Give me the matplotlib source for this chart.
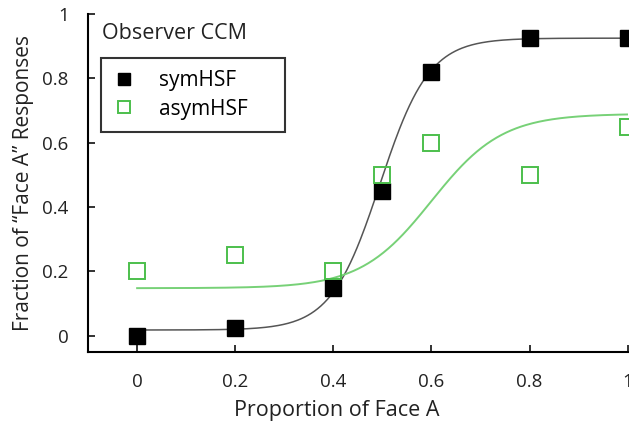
import numpy as np
import matplotlib.pyplot as plt

plt.rcParams['font.family'] = ['Open Sans', 'DejaVu Sans']

# proportion of Face A
x = [0, 0.2, 0.4, 0.5, 0.6, 0.8, 1.0]
sym = [0.0, 0.024, 0.15, 0.45, 0.82, 0.925, 0.925]
asym = [0.2, 0.25, 0.2, 0.5, 0.6, 0.5, 0.65]

# fitted logistic parameters: lower, upper, midpoint, spread
sym_fit = [0.018, 0.925, 0.495, 0.05]
asym_fit = [0.148, 0.69, 0.60, 0.072]


def logistic(xx, p):
    lo, hi, m, s = p
    return lo + (hi - lo) / (1 + np.exp(-(xx - m) / s))


xx = np.linspace(0, 1, 300)

fig = plt.figure(figsize=(6.29, 4.25), dpi=100)
ax = fig.add_axes([0.14, 0.172, 0.858, 0.795])

ax.plot(xx, logistic(xx, sym_fit), color="#555555", lw=1.1)
ax.plot(xx, logistic(xx, asym_fit), color="#77d177", lw=1.4)
ax.plot(x, sym, "s", color="black", ms=11.5, label="symHSF", clip_on=False)
ax.plot(x, asym, "s", mfc="none", mec="#4cbf4c", mew=1.4, ms=11.5,
        label="asymHSF", clip_on=False)

ax.set_xlim(-0.1, 1.0)
ax.set_ylim(-0.05, 1.0)
ax.set_xticks([0, 0.2, 0.4, 0.6, 0.8, 1.0])
ax.set_xticklabels(["0", "0.2", "0.4", "0.6", "0.8", "1"])
ax.set_yticks([0, 0.2, 0.4, 0.6, 0.8, 1.0])
ax.set_yticklabels(["0", "0.2", "0.4", "0.6", "0.8", "1"])
ax.tick_params(direction="in", length=5, width=1.3, labelsize=13.5,
               colors="#222222")
ax.tick_params(axis="x", pad=15)
ax.tick_params(axis="y", pad=14)
for side in ["top", "right"]:
    ax.spines[side].set_visible(False)
for side in ["left", "bottom"]:
    ax.spines[side].set_linewidth(1.5)

ax.set_xlabel("Proportion of Face A", fontsize=15.5, color="#222222",
              labelpad=7, x=0.46)
ax.set_ylabel("Fraction of \u201cFace A\u201d Responses", fontsize=15,
              color="#222222", labelpad=6)

ax.text(0.025, 0.972, "Observer CCM", transform=ax.transAxes, fontsize=15.5,
        color="#222222", va="top")

leg = ax.legend(loc="upper left", bbox_to_anchor=(0.024, 0.657, 0.341, 0.213),
                mode="expand", fontsize=15,
                frameon=True, fancybox=False, edgecolor="black",
                handlelength=1.0, markerscale=0.75, borderpad=0.6,
                labelspacing=0.35, handletextpad=1.2, borderaxespad=0)
leg.get_frame().set_linewidth(1.5)

plt.savefig("out.png", dpi=100)
